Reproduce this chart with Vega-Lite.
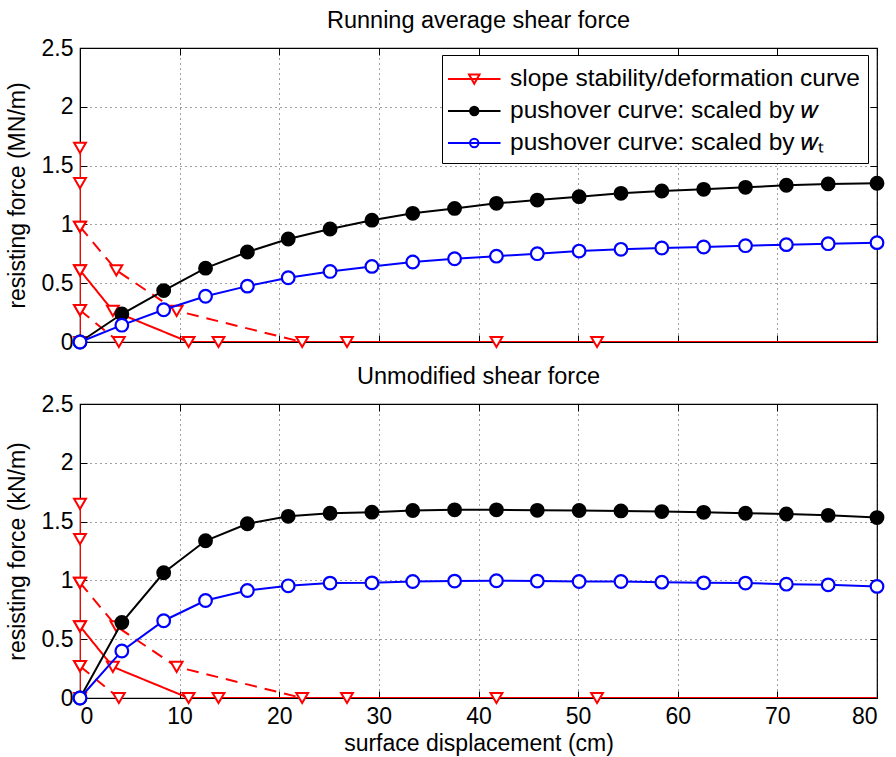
{
  "$schema": "https://vega.github.io/schema/vega-lite/v6.json",
  "background": "white",
  "padding": {"left": 5, "top": 7, "right": 14, "bottom": 2},
  "config": {
    "font": "Liberation Sans",
    "view": {"stroke": "black", "strokeWidth": 1.2},
    "title": {"fontSize": 23.5, "fontWeight": "normal", "color": "black", "offset": 5},
    "axis": {
      "labelFontSize": 23, "titleFontSize": 23, "titleFontWeight": "normal",
      "labelColor": "black", "titleColor": "black",
      "domainColor": "black", "tickColor": "black", "tickSize": -7, "labelPadding": 14,
      "gridColor": "black", "gridOpacity": 0.75, "gridDash": [1, 4], "gridWidth": 1
    },
    "legend": {"labelFont": "Liberation Sans"}
  },
  "datasets": {
    "red": [
      {"series": "slope stability/deformation curve", "curve": "c1", "i": 0, "x": 0, "y": 1.65},
      {"series": "slope stability/deformation curve", "curve": "c1", "i": 1, "x": 0, "y": 1.35},
      {"series": "slope stability/deformation curve", "curve": "c1", "i": 2, "x": 0, "y": 0.98},
      {"series": "slope stability/deformation curve", "curve": "c1", "i": 3, "x": 0, "y": 0.61},
      {"series": "slope stability/deformation curve", "curve": "c1", "i": 4, "x": 0, "y": 0.27},
      {"series": "slope stability/deformation curve", "curve": "c1", "i": 5, "x": 0, "y": 0},
      {"series": "slope stability/deformation curve", "curve": "c2", "i": 0, "x": 0, "y": 0.61},
      {"series": "slope stability/deformation curve", "curve": "c2", "i": 1, "x": 3.3, "y": 0.265},
      {"series": "slope stability/deformation curve", "curve": "c2", "i": 2, "x": 10.9, "y": 0},
      {"series": "slope stability/deformation curve", "curve": "c2", "i": 3, "x": 13.9, "y": 0},
      {"series": "slope stability/deformation curve", "curve": "c2", "i": 4, "x": 26.8, "y": 0},
      {"series": "slope stability/deformation curve", "curve": "c2", "i": 5, "x": 51.9, "y": 0},
      {"series": "slope stability/deformation curve", "curve": "c2", "i": 6, "x": 100, "y": 0},
      {"series": "slope stability/deformation curve", "curve": "c3", "i": 0, "x": 0, "y": 0.98},
      {"series": "slope stability/deformation curve", "curve": "c3", "i": 1, "x": 3.65, "y": 0.61},
      {"series": "slope stability/deformation curve", "curve": "c3", "i": 2, "x": 9.7, "y": 0.265},
      {"series": "slope stability/deformation curve", "curve": "c3", "i": 3, "x": 22.3, "y": 0},
      {"series": "slope stability/deformation curve", "curve": "c3", "i": 4, "x": 41.8, "y": 0},
      {"series": "slope stability/deformation curve", "curve": "c3", "i": 5, "x": 100, "y": 0},
      {"series": "slope stability/deformation curve", "curve": "c4", "i": 0, "x": 0, "y": 0.27},
      {"series": "slope stability/deformation curve", "curve": "c4", "i": 1, "x": 3.9, "y": 0}
    ],
    "push": [
      {"panel": "avg", "series": "pushover curve: scaled by  𝑤", "x": 0, "y": 0},
      {"panel": "avg", "series": "pushover curve: scaled by  𝑤", "x": 4.2, "y": 0.238},
      {"panel": "avg", "series": "pushover curve: scaled by  𝑤", "x": 8.4, "y": 0.437},
      {"panel": "avg", "series": "pushover curve: scaled by  𝑤", "x": 12.6, "y": 0.628},
      {"panel": "avg", "series": "pushover curve: scaled by  𝑤", "x": 16.8, "y": 0.765},
      {"panel": "avg", "series": "pushover curve: scaled by  𝑤", "x": 20.9, "y": 0.876},
      {"panel": "avg", "series": "pushover curve: scaled by  𝑤", "x": 25.1, "y": 0.961},
      {"panel": "avg", "series": "pushover curve: scaled by  𝑤", "x": 29.3, "y": 1.036},
      {"panel": "avg", "series": "pushover curve: scaled by  𝑤", "x": 33.4, "y": 1.094},
      {"panel": "avg", "series": "pushover curve: scaled by  𝑤", "x": 37.6, "y": 1.136},
      {"panel": "avg", "series": "pushover curve: scaled by  𝑤", "x": 41.8, "y": 1.179},
      {"panel": "avg", "series": "pushover curve: scaled by  𝑤", "x": 45.9, "y": 1.207},
      {"panel": "avg", "series": "pushover curve: scaled by  𝑤", "x": 50.1, "y": 1.236},
      {"panel": "avg", "series": "pushover curve: scaled by  𝑤", "x": 54.3, "y": 1.264},
      {"panel": "avg", "series": "pushover curve: scaled by  𝑤", "x": 58.4, "y": 1.284},
      {"panel": "avg", "series": "pushover curve: scaled by  𝑤", "x": 62.6, "y": 1.298},
      {"panel": "avg", "series": "pushover curve: scaled by  𝑤", "x": 66.8, "y": 1.315},
      {"panel": "avg", "series": "pushover curve: scaled by  𝑤", "x": 70.9, "y": 1.333},
      {"panel": "avg", "series": "pushover curve: scaled by  𝑤", "x": 75.1, "y": 1.344},
      {"panel": "avg", "series": "pushover curve: scaled by  𝑤", "x": 80, "y": 1.35},
      {"panel": "avg", "series": "pushover curve: scaled by  𝑤ₜ", "x": 0, "y": 0},
      {"panel": "avg", "series": "pushover curve: scaled by  𝑤ₜ", "x": 4.2, "y": 0.143},
      {"panel": "avg", "series": "pushover curve: scaled by  𝑤ₜ", "x": 8.4, "y": 0.274},
      {"panel": "avg", "series": "pushover curve: scaled by  𝑤ₜ", "x": 12.6, "y": 0.389},
      {"panel": "avg", "series": "pushover curve: scaled by  𝑤ₜ", "x": 16.8, "y": 0.475},
      {"panel": "avg", "series": "pushover curve: scaled by  𝑤ₜ", "x": 20.9, "y": 0.546},
      {"panel": "avg", "series": "pushover curve: scaled by  𝑤ₜ", "x": 25.1, "y": 0.6},
      {"panel": "avg", "series": "pushover curve: scaled by  𝑤ₜ", "x": 29.3, "y": 0.643},
      {"panel": "avg", "series": "pushover curve: scaled by  𝑤ₜ", "x": 33.4, "y": 0.68},
      {"panel": "avg", "series": "pushover curve: scaled by  𝑤ₜ", "x": 37.6, "y": 0.708},
      {"panel": "avg", "series": "pushover curve: scaled by  𝑤ₜ", "x": 41.8, "y": 0.73},
      {"panel": "avg", "series": "pushover curve: scaled by  𝑤ₜ", "x": 45.9, "y": 0.751},
      {"panel": "avg", "series": "pushover curve: scaled by  𝑤ₜ", "x": 50.1, "y": 0.773},
      {"panel": "avg", "series": "pushover curve: scaled by  𝑤ₜ", "x": 54.3, "y": 0.788},
      {"panel": "avg", "series": "pushover curve: scaled by  𝑤ₜ", "x": 58.4, "y": 0.799},
      {"panel": "avg", "series": "pushover curve: scaled by  𝑤ₜ", "x": 62.6, "y": 0.808},
      {"panel": "avg", "series": "pushover curve: scaled by  𝑤ₜ", "x": 66.8, "y": 0.819},
      {"panel": "avg", "series": "pushover curve: scaled by  𝑤ₜ", "x": 70.9, "y": 0.828},
      {"panel": "avg", "series": "pushover curve: scaled by  𝑤ₜ", "x": 75.1, "y": 0.836},
      {"panel": "avg", "series": "pushover curve: scaled by  𝑤ₜ", "x": 80, "y": 0.845},
      {"panel": "raw", "series": "pushover curve: scaled by  𝑤", "x": 0, "y": 0},
      {"panel": "raw", "series": "pushover curve: scaled by  𝑤", "x": 4.2, "y": 0.642},
      {"panel": "raw", "series": "pushover curve: scaled by  𝑤", "x": 8.4, "y": 1.065},
      {"panel": "raw", "series": "pushover curve: scaled by  𝑤", "x": 12.6, "y": 1.337},
      {"panel": "raw", "series": "pushover curve: scaled by  𝑤", "x": 16.8, "y": 1.482},
      {"panel": "raw", "series": "pushover curve: scaled by  𝑤", "x": 20.9, "y": 1.545},
      {"panel": "raw", "series": "pushover curve: scaled by  𝑤", "x": 25.1, "y": 1.571},
      {"panel": "raw", "series": "pushover curve: scaled by  𝑤", "x": 29.3, "y": 1.58},
      {"panel": "raw", "series": "pushover curve: scaled by  𝑤", "x": 33.4, "y": 1.594},
      {"panel": "raw", "series": "pushover curve: scaled by  𝑤", "x": 37.6, "y": 1.6},
      {"panel": "raw", "series": "pushover curve: scaled by  𝑤", "x": 41.8, "y": 1.6},
      {"panel": "raw", "series": "pushover curve: scaled by  𝑤", "x": 45.9, "y": 1.596},
      {"panel": "raw", "series": "pushover curve: scaled by  𝑤", "x": 50.1, "y": 1.594},
      {"panel": "raw", "series": "pushover curve: scaled by  𝑤", "x": 54.3, "y": 1.591},
      {"panel": "raw", "series": "pushover curve: scaled by  𝑤", "x": 58.4, "y": 1.585},
      {"panel": "raw", "series": "pushover curve: scaled by  𝑤", "x": 62.6, "y": 1.579},
      {"panel": "raw", "series": "pushover curve: scaled by  𝑤", "x": 66.8, "y": 1.571},
      {"panel": "raw", "series": "pushover curve: scaled by  𝑤", "x": 70.9, "y": 1.565},
      {"panel": "raw", "series": "pushover curve: scaled by  𝑤", "x": 75.1, "y": 1.553},
      {"panel": "raw", "series": "pushover curve: scaled by  𝑤", "x": 80, "y": 1.534},
      {"panel": "raw", "series": "pushover curve: scaled by  𝑤ₜ", "x": 0, "y": 0},
      {"panel": "raw", "series": "pushover curve: scaled by  𝑤ₜ", "x": 4.2, "y": 0.4},
      {"panel": "raw", "series": "pushover curve: scaled by  𝑤ₜ", "x": 8.4, "y": 0.657},
      {"panel": "raw", "series": "pushover curve: scaled by  𝑤ₜ", "x": 12.6, "y": 0.829},
      {"panel": "raw", "series": "pushover curve: scaled by  𝑤ₜ", "x": 16.8, "y": 0.914},
      {"panel": "raw", "series": "pushover curve: scaled by  𝑤ₜ", "x": 20.9, "y": 0.954},
      {"panel": "raw", "series": "pushover curve: scaled by  𝑤ₜ", "x": 25.1, "y": 0.977},
      {"panel": "raw", "series": "pushover curve: scaled by  𝑤ₜ", "x": 29.3, "y": 0.979},
      {"panel": "raw", "series": "pushover curve: scaled by  𝑤ₜ", "x": 33.4, "y": 0.991},
      {"panel": "raw", "series": "pushover curve: scaled by  𝑤ₜ", "x": 37.6, "y": 0.994},
      {"panel": "raw", "series": "pushover curve: scaled by  𝑤ₜ", "x": 41.8, "y": 0.997},
      {"panel": "raw", "series": "pushover curve: scaled by  𝑤ₜ", "x": 45.9, "y": 0.994},
      {"panel": "raw", "series": "pushover curve: scaled by  𝑤ₜ", "x": 50.1, "y": 0.991},
      {"panel": "raw", "series": "pushover curve: scaled by  𝑤ₜ", "x": 54.3, "y": 0.991},
      {"panel": "raw", "series": "pushover curve: scaled by  𝑤ₜ", "x": 58.4, "y": 0.985},
      {"panel": "raw", "series": "pushover curve: scaled by  𝑤ₜ", "x": 62.6, "y": 0.979},
      {"panel": "raw", "series": "pushover curve: scaled by  𝑤ₜ", "x": 66.8, "y": 0.977},
      {"panel": "raw", "series": "pushover curve: scaled by  𝑤ₜ", "x": 70.9, "y": 0.968},
      {"panel": "raw", "series": "pushover curve: scaled by  𝑤ₜ", "x": 75.1, "y": 0.962},
      {"panel": "raw", "series": "pushover curve: scaled by  𝑤ₜ", "x": 80, "y": 0.949}
    ]
  },
  "spacing": 8,
  "vconcat": [
    {
      "title": "Running average shear force",
      "width": 797,
      "height": 294,
      "resolve": {"axis": {"x": "independent", "y": "independent"}},
      "layer": [
        {
          "data": {"name": "red"},
          "mark": {"type": "line", "strokeWidth": 2, "clip": true},
          "encoding": {
            "x": {"field": "x", "type": "quantitative", "scale": {"domain": [0, 80], "nice": false},
                  "axis": {"values": [0, 10, 20, 30, 40, 50, 60, 70, 80], "labels": false, "title": null, "grid": true}},
            "y": {"field": "y", "type": "quantitative", "scale": {"domain": [0, 2.5], "nice": false},
                  "axis": {"values": [0, 0.5, 1, 1.5, 2, 2.5], "format": "~g", "title": "resisting force (MN/m)", "grid": true, "titlePadding": 12}},
            "color": {"field": "series", "type": "nominal",
              "scale": {"domain": ["slope stability/deformation curve", "pushover curve: scaled by  𝑤", "pushover curve: scaled by  𝑤ₜ"], "range": ["#ff0000", "#000000", "#0000ff"]},
              "legend": {
                "title": null, "orient": "none", "legendX": 362, "legendY": 7,
                "fillColor": "white", "strokeColor": "black",
                "padding": 8, "labelFontSize": 24.5, "labelLimit": 600, "labelColor": "black",
                "symbolSize": 900, "symbolStrokeWidth": 2, "labelOffset": 28, "rowPadding": 4,
                "encode": {"symbols": {"update": {
                  "shape": {"signal": "datum.value == 'slope stability/deformation curve' ? 'M-1.2,0L2.3,0M0.2,-0.3L0.9,-0.3L0.55,0.32Z' : 'M-1.2,0L2.3,0M0.27,0A0.28,0.28 0 1,0 0.83,0A0.28,0.28 0 1,0 0.27,0Z'"},
                  "fill": {"signal": "datum.value == 'pushover curve: scaled by  𝑤' ? 'black' : 'white'"}
                }}}
              }},
            "strokeDash": {"field": "curve", "type": "nominal", "scale": {"domain": ["c1", "c2", "c3", "c4"], "range": [[1, 0], [1, 0], [12, 8], [12, 8]]}, "legend": null},
            "order": {"field": "i", "type": "quantitative"}
          }
        },
        {
          "data": {"name": "red"},
          "transform": [{"filter": "datum.x <= 80"}],
          "mark": {"type": "point", "shape": "triangle-down", "filled": true, "fill": "white", "stroke": "#ff0000", "strokeWidth": 2, "size": 140, "opacity": 1},
          "encoding": {
            "x": {"field": "x", "type": "quantitative", "scale": {"domain": [0, 80], "nice": false},
                  "axis": {"orient": "top", "values": [0, 10, 20, 30, 40, 50, 60, 70, 80], "labels": false, "title": null, "grid": false, "domain": false}},
            "y": {"field": "y", "type": "quantitative", "scale": {"domain": [0, 2.5], "nice": false},
                  "axis": {"orient": "right", "values": [0, 0.5, 1, 1.5, 2, 2.5], "labels": false, "title": null, "grid": false, "domain": false}}
          }
        },
        {
          "data": {"name": "push"},
          "transform": [{"filter": "datum.panel == 'avg'"}],
          "mark": {"type": "line", "strokeWidth": 2},
          "encoding": {
            "x": {"field": "x", "type": "quantitative", "axis": null},
            "y": {"field": "y", "type": "quantitative", "axis": null},
            "color": {"field": "series", "type": "nominal"}
          }
        },
        {
          "data": {"name": "push"},
          "transform": [{"filter": "datum.panel == 'avg'"}],
          "mark": {"type": "point", "shape": "circle", "filled": true, "strokeWidth": 2.2, "size": 160, "opacity": 1},
          "encoding": {
            "x": {"field": "x", "type": "quantitative", "axis": null},
            "y": {"field": "y", "type": "quantitative", "axis": null},
            "fill": {"field": "series", "type": "nominal", "scale": {"domain": ["pushover curve: scaled by  𝑤", "pushover curve: scaled by  𝑤ₜ"], "range": ["#000000", "#ffffff"]}, "legend": null},
            "stroke": {"field": "series", "type": "nominal", "scale": {"domain": ["pushover curve: scaled by  𝑤", "pushover curve: scaled by  𝑤ₜ"], "range": ["#000000", "#0000ff"]}, "legend": null}
          }
        }
      ]
    },
    {
      "title": "Unmodified shear force",
      "width": 797,
      "height": 294,
      "resolve": {"axis": {"x": "independent", "y": "independent"}},
      "layer": [
        {
          "data": {"name": "red"},
          "mark": {"type": "line", "strokeWidth": 2, "clip": true},
          "encoding": {
            "x": {"field": "x", "type": "quantitative", "scale": {"domain": [0, 80], "nice": false},
                  "axis": {"values": [0, 10, 20, 30, 40, 50, 60, 70, 80], "title": "surface displacement (cm)", "grid": true, "titlePadding": 4}},
            "y": {"field": "y", "type": "quantitative", "scale": {"domain": [0, 2.5], "nice": false},
                  "axis": {"values": [0, 0.5, 1, 1.5, 2, 2.5], "format": "~g", "title": "resisting force (kN/m)", "grid": true, "titlePadding": 12}},
            "color": {"field": "series", "type": "nominal"},
            "strokeDash": {"field": "curve", "type": "nominal", "scale": {"domain": ["c1", "c2", "c3", "c4"], "range": [[1, 0], [1, 0], [12, 8], [12, 8]]}, "legend": null},
            "order": {"field": "i", "type": "quantitative"}
          }
        },
        {
          "data": {"name": "red"},
          "transform": [{"filter": "datum.x <= 80"}],
          "mark": {"type": "point", "shape": "triangle-down", "filled": true, "fill": "white", "stroke": "#ff0000", "strokeWidth": 2, "size": 140, "opacity": 1},
          "encoding": {
            "x": {"field": "x", "type": "quantitative", "scale": {"domain": [0, 80], "nice": false},
                  "axis": {"orient": "top", "values": [0, 10, 20, 30, 40, 50, 60, 70, 80], "labels": false, "title": null, "grid": false, "domain": false}},
            "y": {"field": "y", "type": "quantitative", "scale": {"domain": [0, 2.5], "nice": false},
                  "axis": {"orient": "right", "values": [0, 0.5, 1, 1.5, 2, 2.5], "labels": false, "title": null, "grid": false, "domain": false}}
          }
        },
        {
          "data": {"name": "push"},
          "transform": [{"filter": "datum.panel == 'raw'"}],
          "mark": {"type": "line", "strokeWidth": 2},
          "encoding": {
            "x": {"field": "x", "type": "quantitative", "axis": null},
            "y": {"field": "y", "type": "quantitative", "axis": null},
            "color": {"field": "series", "type": "nominal"}
          }
        },
        {
          "data": {"name": "push"},
          "transform": [{"filter": "datum.panel == 'raw'"}],
          "mark": {"type": "point", "shape": "circle", "filled": true, "strokeWidth": 2.2, "size": 160, "opacity": 1},
          "encoding": {
            "x": {"field": "x", "type": "quantitative", "axis": null},
            "y": {"field": "y", "type": "quantitative", "axis": null},
            "fill": {"field": "series", "type": "nominal", "legend": null},
            "stroke": {"field": "series", "type": "nominal", "legend": null}
          }
        }
      ]
    }
  ]
}
